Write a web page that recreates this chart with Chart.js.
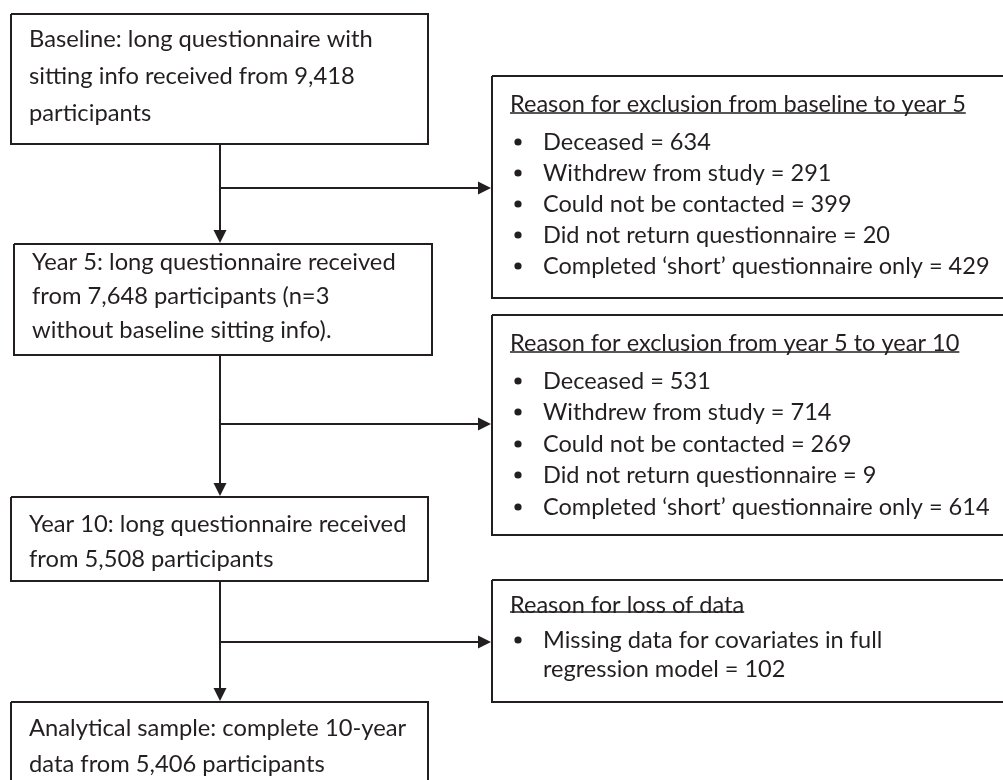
<!DOCTYPE html>
<html><head><meta charset="utf-8">
<script src="https://cdn.jsdelivr.net/npm/chart.js@4/dist/chart.umd.min.js"></script>
<style>html,body{margin:0;padding:0;background:#fff;overflow:hidden}#wrap{width:1003px;height:780px;position:relative}</style>
</head><body><div id="wrap"><canvas id="c" width="1003" height="780"></canvas></div>
<script>
// ---- DATA ----
const stageCounts = [9418, 7648, 5508, 5406];
const noBaselineCount = 3;
const exclTitles = [
  'Reason for exclusion from baseline to year 5',
  'Reason for exclusion from year 5 to year 10',
  'Reason for loss of data'
];
const exclReasons = ['Deceased', 'Withdrew from study', 'Could not be contacted', 'Did not return questionnaire', 'Completed \u2018short\u2019 questionnaire only'];
const excl1Counts = [634, 291, 399, 20, 429];
const excl2Counts = [531, 714, 269, 9, 614];
const lossReasons = ['Missing data for covariates in full regression model'];
const lossCounts = [102];

const fmt = n => n.toLocaleString('en-US');
const stageLines = [
  ['Baseline: long questionnaire with', 'sitting info received from ' + fmt(stageCounts[0]), 'participants'],
  ['Year 5: long questionnaire received', 'from ' + fmt(stageCounts[1]) + ' participants (n=' + noBaselineCount, 'without baseline sitting info).'],
  ['Year 10: long questionnaire received', 'from ' + fmt(stageCounts[2]) + ' participants'],
  ['Analytical sample: complete 10-year', 'data from ' + fmt(stageCounts[3]) + ' participants']
];
const exclItems = [
  exclReasons.map((r, i) => r + ' = ' + excl1Counts[i]),
  exclReasons.map((r, i) => r + ' = ' + excl2Counts[i]),
  lossReasons.map((r, i) => r + ' = ' + lossCounts[i])
];

// ---- LAYOUT (scale units) ----
const leftBoxes = [
  {x0: 11, x1: 428, y0: 14, y1: 144, tx: 29, lines: [38, 75, 112]},
  {x0: 14, x1: 432, y0: 244, y1: 355, tx: 32, lines: [261, 295, 329]},
  {x0: 11, x1: 428, y0: 497, y1: 581, tx: 29, lines: [523, 558]},
  {x0: 11, x1: 428, y0: 702, y1: 800, tx: 29, lines: [727, 763]}
];
const rightBoxes = [
  {y0: 76, y1: 298, title: 104, ul: 113, wrap: 480, lines: [142, 173, 204, 235, 266]},
  {y0: 315, y1: 535, title: 343, ul: 352, wrap: 480, lines: [381, 412, 444, 475, 507]},
  {y0: 580, y1: 702, title: 605, ul: 612, wrap: 400, lines: [640, 669]}
];
const RX0 = 492, RX1 = 1012, trunkX = 220, branchY = [188, 424, 642];
const INK = '#231f20';

// fonts fitted to measured widths
const mctx = document.createElement('canvas').getContext('2d');
function fitSize(str, target, family) {
  mctx.font = '100px ' + family;
  return 100 * target / mctx.measureText(str).width;
}
const FAM = 'Lato';

function rect(b) { return [{x:b.x0,y:b.y0},{x:b.x1,y:b.y0},{x:b.x1,y:b.y1},{x:b.x0,y:b.y1},{x:b.x0,y:b.y0}]; }
const datasets = [];
leftBoxes.forEach(b => datasets.push({data: rect(b)}));
rightBoxes.forEach(b => datasets.push({data: rect({x0: RX0, x1: RX1, y0: b.y0, y1: b.y1})}));
for (let i = 0; i < 3; i++) {
  datasets.push({data: [{x: trunkX, y: leftBoxes[i].y1}, {x: trunkX, y: leftBoxes[i+1].y0 - 12}]});
  datasets.push({data: [{x: trunkX, y: branchY[i]}, {x: RX0 - 12, y: branchY[i]}]});
}
datasets.forEach(d => Object.assign(d, {showLine: true, borderColor: INK, borderWidth: 2, pointRadius: 0, fill: false, tension: 0}));

const textPlugin = {
  id: 'flowText',
  afterDatasetsDraw(chart) {
    const {ctx, scales: {x, y}} = chart;
    ctx.save();
    ctx.fillStyle = INK; ctx.strokeStyle = INK;
    function arrow(tx, ty, dir) {
      const px = x.getPixelForValue(tx), py = y.getPixelForValue(ty);
      const L = 13, H = 6.5;
      ctx.beginPath();
      if (dir === 'down') { ctx.moveTo(px, py); ctx.lineTo(px - H, py - L); ctx.lineTo(px + H, py - L); }
      else { ctx.moveTo(px, py); ctx.lineTo(px - L, py - H); ctx.lineTo(px - L, py + H); }
      ctx.closePath(); ctx.fill();
    }
    for (let i = 0; i < 3; i++) {
      arrow(trunkX, leftBoxes[i+1].y0 - 1, 'down');
      arrow(RX0 - 1, branchY[i], 'right');
    }
    const lSize = fitSize('Baseline: long questionnaire with', 344, FAM);
    ctx.font = lSize + 'px ' + FAM;
    ctx.textBaseline = 'alphabetic'; ctx.textAlign = 'left';
    const lCap = lSize * 0.72;
    leftBoxes.forEach((b, i) => {
      stageLines[i].forEach((t, j) => ctx.fillText(t, x.getPixelForValue(b.tx), y.getPixelForValue(b.lines[j]) + lCap / 2));
    });
    const rSize = fitSize(exclItems[0][4], 447, FAM);
    ctx.font = rSize + 'px ' + FAM;
    const rCap = rSize * 0.72;
    const titleX = x.getPixelForValue(510), bulX = x.getPixelForValue(518), txtX = x.getPixelForValue(543);
    rightBoxes.forEach((b, i) => {
      const ty = y.getPixelForValue(b.title) + rCap / 2;
      ctx.fillText(exclTitles[i], titleX, ty);
      const w = ctx.measureText(exclTitles[i]).width;
      ctx.lineWidth = 1.6;
      ctx.beginPath();
      const uy = y.getPixelForValue(b.ul);
      ctx.moveTo(titleX, uy); ctx.lineTo(titleX + w, uy); ctx.stroke();
      const lines = [];
      exclItems[i].forEach(item => {
        const words = item.split(' ');
        let cur = '', first = true;
        words.forEach(wd => {
          const test = cur ? cur + ' ' + wd : wd;
          if (cur && ctx.measureText(test).width > b.wrap) { lines.push({t: cur, bullet: first}); first = false; cur = wd; }
          else cur = test;
        });
        lines.push({t: cur, bullet: first});
      });
      lines.forEach((ln, j) => {
        const cy = y.getPixelForValue(b.lines[j]);
        if (ln.bullet) { ctx.beginPath(); ctx.arc(bulX, cy, 3.6, 0, Math.PI * 2); ctx.fill(); }
        ctx.fillText(ln.t, txtX, cy + rCap / 2);
      });
    });
    ctx.restore();
  }
};

new Chart(document.getElementById('c'), {
  type: 'scatter',
  data: {datasets},
  options: {
    responsive: false, animation: false, events: [],
    layout: {padding: 0},
    plugins: {legend: {display: false}, tooltip: {enabled: false}},
    scales: {
      x: {type: 'linear', min: 0, max: 1003, display: false},
      y: {type: 'linear', min: 0, max: 780, reverse: true, display: false}
    }
  },
  plugins: [textPlugin]
});
</script></body></html>
